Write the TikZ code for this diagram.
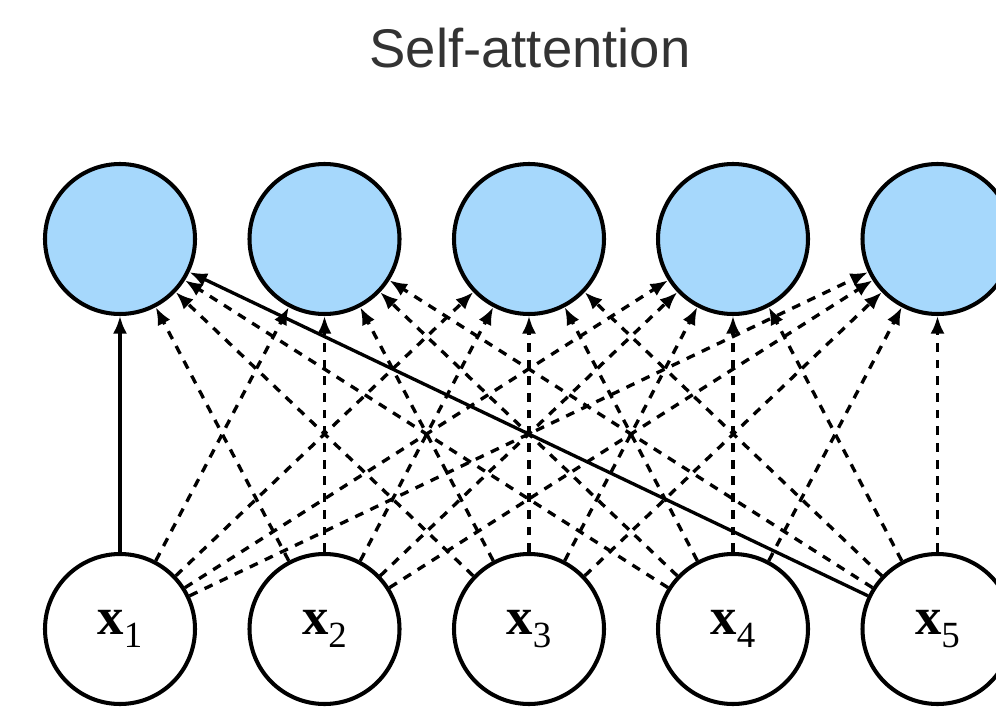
\documentclass[tikz,border=0pt]{standalone}
\usepackage{fontspec}
\setmainfont{Liberation Serif}
\newfontfamily\titlefont{Liberation Sans}
\usetikzlibrary{arrows.meta}
\definecolor{attnblue}{RGB}{166,216,252}

% bold x with a lowered index
\newcommand{\tokname}[1]{\textbf{x}\raisebox{-0.55ex}{\fontsize{21}{24}\selectfont #1}}

\begin{document}
\begin{tikzpicture}[
      token/.style={circle, draw=black, line width=2.3pt, fill=white,
                    minimum size=3.0cm, inner sep=0pt, font=\fontsize{30}{34}\selectfont},
      outp/.style={token, fill=attnblue},
      arr/.style={-{Latex[length=10pt,width=8pt]}, line width=1.9pt},
      attn/.style={arr, dash pattern=on 5pt off 4.5pt}]

    \useasboundingbox (0,0) rectangle (19.92,14.16);
    \clip (0,0) rectangle (19.92,14.16);

    \node[font=\titlefont\fontsize{31}{36}\selectfont, text=black!80]
      (title) at (10.6, 13.2) {Self-attention};

    % outputs
    \node[outp] (h1) at (2.40, 9.38)  {};
    \node[outp] (h2) at (6.49, 9.38)  {};
    \node[outp] (h3) at (10.58, 9.38) {};
    \node[outp] (h4) at (14.66, 9.38) {};
    \node[outp] (h5) at (18.75, 9.38) {};

    % inputs
    \node[token] (x1) at (2.40, 1.58)  {\tokname{1}};
    \node[token] (x2) at (6.49, 1.58)  {\tokname{2}};
    \node[token] (x3) at (10.58, 1.58) {\tokname{3}};
    \node[token] (x4) at (14.66, 1.58) {\tokname{4}};
    \node[token] (x5) at (18.75, 1.58) {\tokname{5}};

    \foreach \i in {1,...,5}
      \foreach \j in {2,...,5}
        \draw[attn] (x\i) -- (h\j);
    \foreach \i in {2,3,4}
      \draw[attn] (x\i) -- (h1);

    \draw[arr] (x1) -- (h1);
    \draw[arr] (x5) -- (h1);
  \end{tikzpicture}
\end{document}
